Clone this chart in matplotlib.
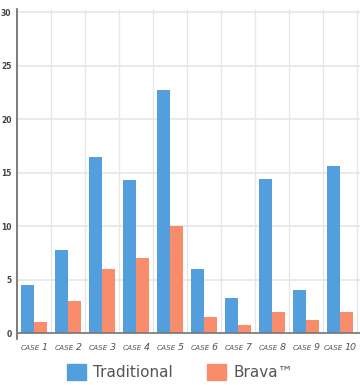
import numpy as np
import matplotlib
matplotlib.use("Agg")
import matplotlib.pyplot as plt
from matplotlib.patches import Patch
from matplotlib.offsetbox import TextArea, HPacker, AnnotationBbox

case_nums = ["1", "2", "3", "4", "5", "6", "7", "8", "9", "10"]
traditional = [4.5, 7.8, 16.5, 14.3, 22.7, 6.0, 3.3, 14.4, 4.05, 15.6]
brava = [1.0, 3.0, 6.0, 7.0, 10.0, 1.5, 0.75, 2.0, 1.25, 2.0]
yticks = [0, 5, 10, 15, 20, 25, 30]

blue = "#539fde"
orange = "#f98d6b"
text_grey = "#555555"

fig = plt.figure(figsize=(3.6, 3.85), dpi=100)
ax = fig.add_axes([17 / 360, 1 - 339 / 385, 343 / 360, 330 / 385])

x = np.arange(len(case_nums))
w = 0.385
ax.bar(x - 0.2, traditional, w, color=blue, zorder=3)
ax.bar(x + 0.2, brava, w, color=orange, zorder=3)

ax.set_xlim(-0.5, 9.5 + 3 / 34)
ax.set_ylim(-0.55, 30.3)

# grid
for yv in yticks:
    ax.axhline(yv, color="#e6e6e6", lw=1.2, zorder=1)
ax.vlines(x + 0.5, 0, 30.3, color="#e6e6e6", lw=0.9, zorder=1)
ax.axhline(0, color="#777777", lw=1.2, zorder=4)

for s in ["top", "right", "bottom"]:
    ax.spines[s].set_visible(False)
ax.spines["left"].set_color("#666666")
ax.spines["left"].set_linewidth(1.2)

ax.set_yticks(yticks)
ax.set_yticklabels([str(v) for v in yticks], fontsize=5.5, color="#444444",
                   fontweight="bold", family="DejaVu Sans")
ax.tick_params(axis="y", length=0, pad=4)
ax.set_xticks([])

# "CASE n" labels: small caps word, larger number
for xi, n in zip(x, case_nums):
    word = TextArea("CASE", textprops=dict(fontsize=5.2, style="italic",
                                           color=text_grey, family="DejaVu Sans"))
    num = TextArea(n, textprops=dict(fontsize=6.8, style="italic",
                                     color=text_grey, family="DejaVu Sans"))
    box = HPacker(children=[word, num], align="baseline", pad=0, sep=1.2)
    ab = AnnotationBbox(box, (xi, 0), xybox=(0, -10), xycoords="data",
                        boxcoords="offset points", frameon=False,
                        box_alignment=(0.5, 0.5), annotation_clip=False)
    ax.add_artist(ab)

handles = [Patch(color=blue, label="Traditional"),
           Patch(color=orange, label="Brava\u2122")]
fig.legend(handles=handles, loc="center", bbox_to_anchor=(0.5, 1 - 372 / 385),
           ncol=2, frameon=False, handlelength=1.25,
           handleheight=1.25, handletextpad=0.5, columnspacing=2.2,
           labelcolor=text_grey,
           prop={"family": "DejaVu Sans", "size": 11, "weight": "medium"})

fig.savefig("out.png", dpi=100)
